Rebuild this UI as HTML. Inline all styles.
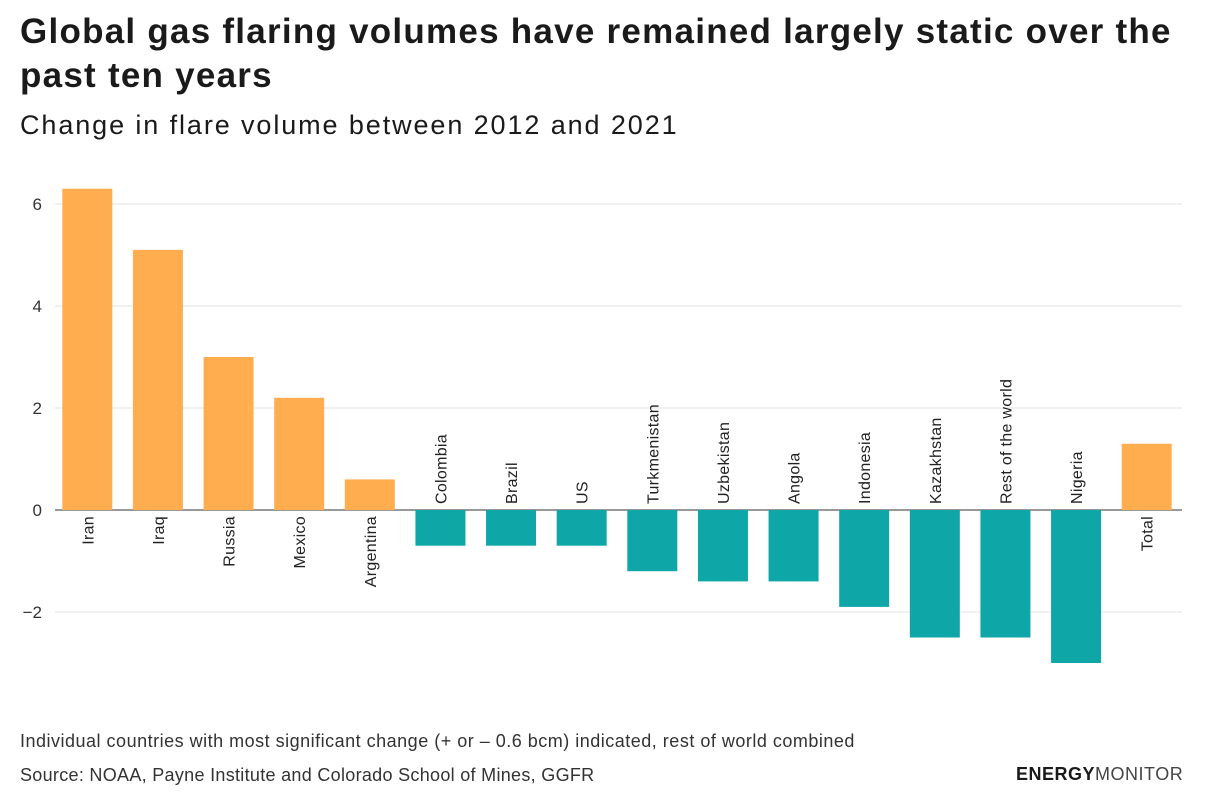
<!DOCTYPE html>
<html><head><meta charset="utf-8"><style>
body{margin:0;background:#fff;width:1216px;height:808px;overflow:hidden;font-family:"Liberation Sans",sans-serif;color:#1a1a1a}
h1{position:absolute;left:20px;top:10px;margin:0;font-size:35px;line-height:44px;font-weight:bold;width:1190px;letter-spacing:1.25px}
h2{position:absolute;left:20px;top:110px;margin:0;font-size:27px;font-weight:normal;letter-spacing:1.9px}
.note{position:absolute;left:20px;font-size:18px;color:#333;letter-spacing:0.5px}
.logo{position:absolute;left:1016px;top:764px;font-size:18px;letter-spacing:0.5px}
</style></head><body>
<h1>Global gas flaring volumes have remained largely static over the<br>past ten years</h1>
<h2>Change in flare volume between 2012 and 2021</h2>
<svg id="c" width="1216" height="808" style="position:absolute;left:0;top:0"></svg>
<div class="note" style="top:731px">Individual countries with most significant change (+ or – 0.6 bcm) indicated, rest of world combined</div>
<div class="note" style="top:765px;letter-spacing:0.3px">Source: NOAA, Payne Institute and Colorado School of Mines, GGFR</div>
<div class="logo"><b>ENERGY</b><span style="color:#444">MONITOR</span></div>
<script>
const categories=["Iran","Iraq","Russia","Mexico","Argentina","Colombia","Brazil","US","Turkmenistan","Uzbekistan","Angola","Indonesia","Kazakhstan","Rest of the world","Nigeria","Total"];
const values=[6.3,5.1,3.0,2.2,0.6,-0.7,-0.7,-0.7,-1.2,-1.4,-1.4,-1.9,-2.5,-2.5,-3.0,1.3];
const tickValues=[-2,0,2,4,6];
const tickLabels=["−2","0","2","4","6"];
const NS="http://www.w3.org/2000/svg",svg=document.getElementById('c');
const x0=52,x1=1182,band=(x1-x0)/categories.length,bw=50;
const y=v=>510-v*51;
const xc=i=>x0+band*(i+0.5);
function mk(t,a){const e=document.createElementNS(NS,t);for(const k in a)e.setAttribute(k,a[k]);svg.appendChild(e);return e;}
tickValues.forEach((v,i)=>{
  const g=mk('line',{x1:55,x2:x1,y1:y(v),y2:y(v),stroke:v===0?'#333':'#e0e0e0','stroke-width':1});
  
  
  const t=mk('text',{x:42,y:y(v)+6,'text-anchor':'end','font-size':17,fill:'#333'});
  t.textContent=tickLabels[i];
  
  
});
categories.forEach((c,i)=>{
  const v=values[i];
  const r=mk('rect',{x:xc(i)-bw/2,y:Math.min(y(v),y(0)),width:bw,height:Math.abs(y(v)-y(0)),fill:(v>=0?'#FFAD4F':'#0FA6A8')});
  
  
  const ly=v>=0?y(0)+6:y(0)-6;
  const t=mk('text',{x:0,y:0,'font-size':16,fill:'#222','letter-spacing':'0.3','text-anchor':v>=0?'end':'start',transform:`translate(${xc(i)+6},${ly}) rotate(-90)`});
  t.textContent=c;
  
  
});
</script>
</body></html>
